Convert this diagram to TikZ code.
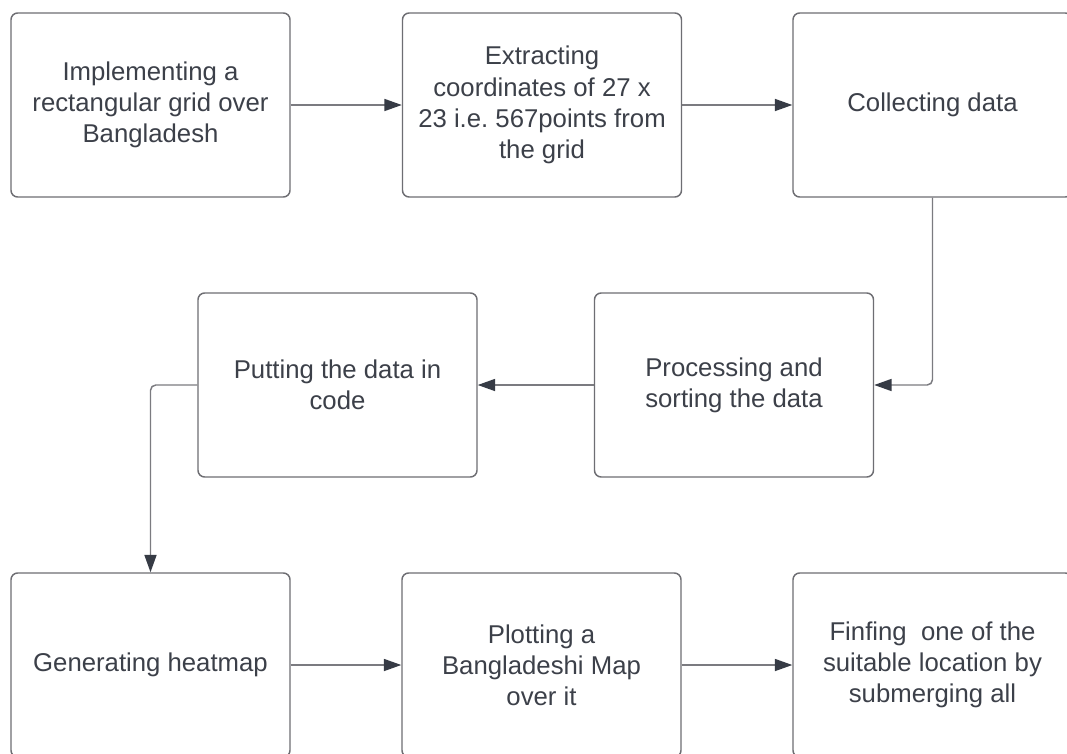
\documentclass[tikz,border=0pt]{standalone}
\usepackage{fontspec}
\setmainfont{Liberation Sans}
\usetikzlibrary{arrows.meta}
\definecolor{txt}{HTML}{3C4049}
\definecolor{bord}{HTML}{6E6E73}
\definecolor{conn}{HTML}{7B7B80}
\definecolor{tipc}{HTML}{363B45}
\frenchspacing
\begin{document}
\begin{tikzpicture}[x=0.75pt,y=-0.75pt,
  stepbox/.style={draw=bord, line width=1.1pt, rounded corners=5pt,
    minimum width=209.25pt, minimum height=138pt, inner sep=0pt,
    align=center, text=txt,
    font=\fontsize{19.3pt}{23.4pt}\selectfont},
  conn/.style={draw=conn, line width=1.1pt, rounded corners=4pt,
    -{Triangle[length=13pt,width=9pt,color=tipc]}}]
\useasboundingbox (0,0) rectangle (1067,753);
\clip (0,0) rectangle (1067,753);
\fill[white] (0,0) rectangle (1067,753);
\node[stepbox] (A) at (150.5,105) {Implementing a\\rectangular grid over\\Bangladesh};
\node[stepbox] (B) at (542,105) {Extracting\\coordinates of 27 x\\23 i.e. 567points from\\the grid};
\node[stepbox] (C) at (932.5,105) {Collecting data};
\node[stepbox] (D) at (337.5,385) {Putting the data in\\code};
\node[stepbox] (E) at (734,385) {Processing and\\sorting the data};
\node[stepbox] (F) at (150.5,665) {Generating heatmap};
\node[stepbox] (G) at (541.5,665) {Plotting a\\Bangladeshi Map\\over it};
\node[stepbox] (H) at (932.5,665) {Finfing\ \ one of the\\suitable location by\\submerging all};
\draw[conn] (A) -- (B);
\draw[conn] (B) -- (C);
\draw[conn] (C.south) |- (E.east);
\draw[conn] (E) -- (D);
\draw[conn] (D.west) -| (F.north);
\draw[conn] (F) -- (G);
\draw[conn] (G) -- (H);
\end{tikzpicture}
\end{document}
